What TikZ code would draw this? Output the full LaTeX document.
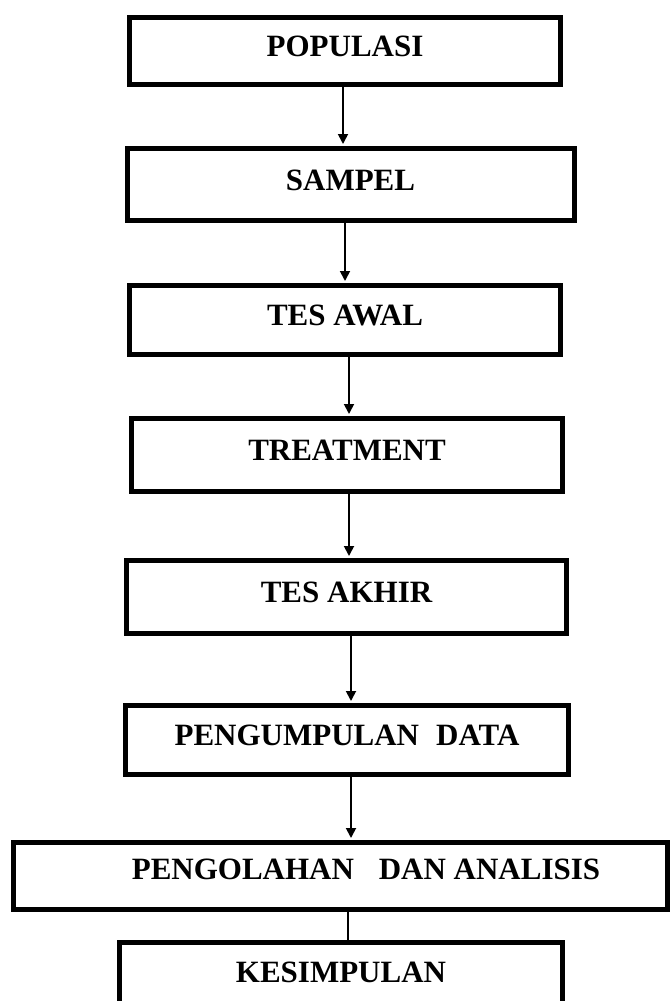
\documentclass[tikz,border=0pt]{standalone}
\usepackage{fontspec}
\setmainfont{Liberation Serif}
\usepackage{tikz}
\usetikzlibrary{arrows.meta}
\usetikzlibrary{calc}

\begin{document}
\begin{tikzpicture}[x=1pt, y=-1pt,
        box_style/.style={rectangle,draw=black,line width=5pt,fill=white,inner sep=0pt,
            text height=20pt,text depth=9pt,font=\fontsize{31}{36}\selectfont\bfseries},
        text_style/.style={inner sep=0pt,text height=20pt,text depth=9pt,
            font=\fontsize{31}{36}\selectfont\bfseries},
        arrow_style/.style={draw=black, line width=1.8pt,shorten >=2pt,
            -{Triangle[length=10pt,width=10pt]}},
        line_style/.style={draw=black, line width=1.8pt,-}]

        \useasboundingbox (0,0) rectangle (671,1001);
        \clip (0,0) rectangle (671,1001);

        \node [box_style, minimum width=431pt, minimum height=67pt] (pop) at (345,51) {POPULASI};
        \node [box_style, minimum width=447pt, minimum height=72pt] (sam) at (350.5,184.5) {SAMPEL};
        \node [box_style, minimum width=431pt, minimum height=69pt] (awal) at (345,320) {TES AWAL};
        \node [box_style, minimum width=431pt, minimum height=73pt] (treat) at (347,455) {TREATMENT};
        \node [box_style, minimum width=440pt, minimum height=73pt] (akhir) at (346.5,597) {TES AKHIR};
        \node [box_style, minimum width=443pt, minimum height=69pt] (kumpul) at (347,740) {PENGUMPULAN\hspace{0.3em} DATA};
        \node [box_style, minimum width=654pt, minimum height=67pt] (olah) at (340.5,876) {};
        \node [text_style] (olah_text) at ([xshift=25.5pt,yshift=2pt]olah.center) {PENGOLAHAN\hspace{0.55em} DAN ANALISIS};
        \node [box_style, minimum width=443pt, minimum height=69pt] (simpul) at (341,977) {KESIMPULAN};

        \draw [arrow_style] (pop.south -| 343,0) -- (sam.north -| 343,0);
        \draw [arrow_style] (sam.south -| 345,0) -- (awal.north -| 345,0);
        \draw [arrow_style] (awal.south -| 349,0) -- (treat.north -| 349,0);
        \draw [arrow_style] (treat.south -| 349,0) -- (akhir.north -| 349,0);
        \draw [arrow_style] (akhir.south -| 351,0) -- (kumpul.north -| 351,0);
        \draw [arrow_style] (kumpul.south -| 351,0) -- (olah.north -| 351,0);
        \draw [line_style] (olah.south -| 348,0) -- (simpul.north -| 348,0);
        \end{tikzpicture}
\end{document}
